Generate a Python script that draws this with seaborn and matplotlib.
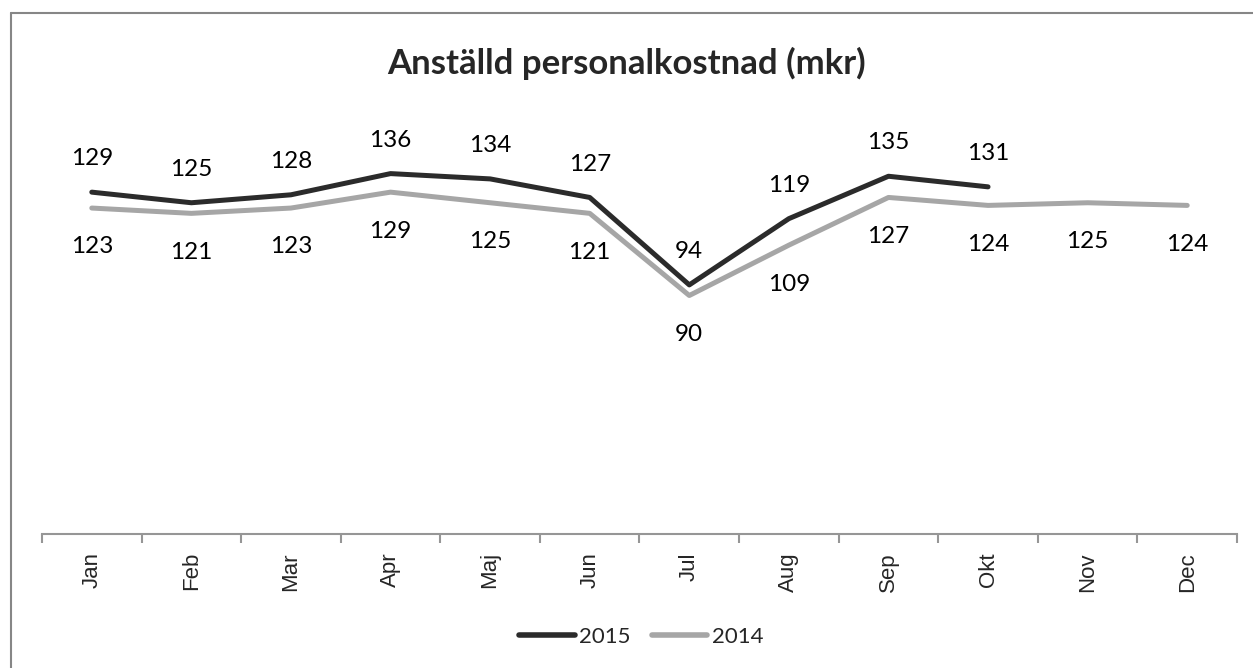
import numpy as np
import pandas as pd
import seaborn as sns
import matplotlib

matplotlib.use("Agg")
import matplotlib.pyplot as plt
from matplotlib.lines import Line2D

months = ["Jan", "Feb", "Mar", "Apr", "Maj", "Jun", "Jul", "Aug", "Sep", "Okt", "Nov", "Dec"]
values_2015 = [129, 125, 128, 136, 134, 127, 94, 119, 135, 131]
values_2014 = [123, 121, 123, 129, 125, 121, 90, 109, 127, 124, 125, 124]

df = pd.concat([
    pd.DataFrame({"pos": range(len(values_2015)), "value": values_2015, "year": "2015"}),
    pd.DataFrame({"pos": range(len(values_2014)), "value": values_2014, "year": "2014"}),
])

sns.set_style("white")
plt.rcParams["font.family"] = ["Lato", "DejaVu Sans"]

fig = plt.figure(figsize=(12.53, 6.68), dpi=100)
ax = fig.add_axes([42 / 1253, 1 - 534 / 668, 1195 / 1253, 424 / 668])

colors = {"2015": "#2b2b2b", "2014": "#a6a6a6"}
sns.lineplot(data=df, x="pos", y="value", hue="year", hue_order=["2015", "2014"],
             palette=colors, linewidth=3.6, ax=ax, legend=True)

# data labels: 2015 above, 2014 below
for i, v in enumerate(values_2015):
    ax.annotate(str(v), (i, v), xytext=(0, 24), textcoords="offset points",
                ha="center", va="center", fontsize=17.5, color="black")
for i, v in enumerate(values_2014):
    ax.annotate(str(v), (i, v), xytext=(0, -28), textcoords="offset points",
                ha="center", va="center", fontsize=17.5, color="black")

ax.set_xlim(-0.5, 11.5)
ax.set_ylim(0, 160)
ax.set_xticks(range(12))
ax.set_xticklabels(months, rotation=90, fontsize=16, family="Liberation Sans")
ax.set_xticks(np.arange(-0.5, 12, 1), minor=True)
ax.tick_params(axis="x", which="major", bottom=False, length=0, pad=13)
ax.tick_params(axis="x", which="minor", bottom=True, length=6.5, width=1.5,
               color="#969696", direction="out")
ax.set_yticks([])
ax.set_xlabel("")
ax.set_ylabel("")
for s in ["top", "right", "left"]:
    ax.spines[s].set_visible(False)
ax.spines["bottom"].set_color("#969696")
ax.spines["bottom"].set_linewidth(1.5)

ax.get_legend().remove()
handles, labels = ax.get_legend_handles_labels()
for h in handles:
    h.set_linewidth(4)
    h.set_solid_capstyle("round")
fig.legend(handles, labels, loc="center", bbox_to_anchor=(641 / 1253, 1 - 637 / 668), ncol=2,
           frameon=False, fontsize=16, handlelength=2.5, handletextpad=0.2,
           columnspacing=0.95)

fig.text(0.5, 1 - 63 / 668, "Anställd personalkostnad (mkr)", fontsize=25,
         fontweight="bold", ha="center", va="center")

# chart area border (only top and left edges fall inside the image)
fig.add_artist(Line2D([11 / 1253, 11 / 1253], [0, 1 - 13 / 668], transform=fig.transFigure,
                      color="#868686", linewidth=1.5))
fig.add_artist(Line2D([11 / 1253, 1], [1 - 13 / 668, 1 - 13 / 668], transform=fig.transFigure,
                      color="#868686", linewidth=1.5))

fig.savefig("out.png", dpi=100)
